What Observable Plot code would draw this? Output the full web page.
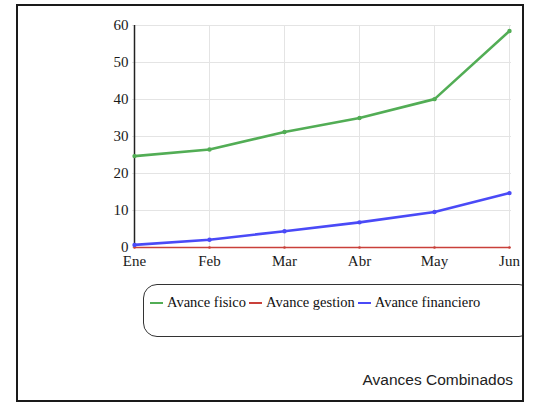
<!DOCTYPE html>
<html>
<head>
<meta charset="utf-8">
<script src="https://cdn.jsdelivr.net/npm/d3@7"></script>
<script src="https://cdn.jsdelivr.net/npm/@observablehq/plot@0.6"></script>
<style>
  html, body { margin: 0; padding: 0; background: #fff; }
  #wrap { position: relative; width: 534px; height: 402px; overflow: hidden; }
  #frame { position: absolute; left: 16px; top: 4px; width: 504px; height: 394px; border: 2px solid #1a1a1a; box-sizing: content-box; pointer-events: none; }
  #legend { position: absolute; left: 143px; top: 284px; width: 390px; height: 53px; border: 1.5px solid #333; border-radius: 14px; box-sizing: border-box; font-family: "Liberation Serif", "Times New Roman", serif; font-size: 14.5px; color: #111; }
  #legend .items { position: absolute; left: 6px; top: 9px; white-space: nowrap; }
  #legend .sw { display: inline-block; width: 13px; height: 2px; vertical-align: middle; margin-right: 4px; position: relative; top: -1px; }
  #legend .it { margin-right: 3px; }
  #title { position: absolute; right: 21px; top: 371px; font-family: "Liberation Sans", Arial, sans-serif; font-size: 15.5px; color: #222; }
  #chart { position: absolute; left: 0; top: 0; }
  #clip { position: absolute; left: 0; top: 0; width: 522px; height: 402px; overflow: hidden; }
</style>
</head>
<body>
<div id="wrap">
  <div id="chart"></div>
  <div id="clip"><div id="legend"><div class="items"></div></div></div>
  <div id="title"></div>
  <div id="frame"></div>
</div>
<script>
const months = ["Ene", "Feb", "Mar", "Abr", "May", "Jun"];
const seriesNames = ["Avance fisico", "Avance gestion", "Avance financiero"];
const seriesColors = ["#52ad55", "#c9403a", "#4a4af7"];
const avanceFisico = [24.7, 26.5, 31.2, 35.0, 40.1, 58.5];
const avanceGestion = [0, 0, 0, 0, 0, 0];
const avanceFinanciero = [0.7, 2.1, 4.4, 6.8, 9.6, 14.7];
const yTicks = [0, 10, 20, 30, 40, 50, 60];
const chartTitle = "Avances Combinados";

const seriesValues = [avanceFisico, avanceGestion, avanceFinanciero];
const data = [];
seriesNames.forEach((name, si) => {
  months.forEach((m, mi) => data.push({ serie: name, mes: m, valor: seriesValues[si][mi] }));
});
const gestion = data.filter(d => d.serie === "Avance gestion");
const others = data.filter(d => d.serie !== "Avance gestion");

const chart = Plot.plot({
  width: 534,
  height: 402,
  marginLeft: 132,
  marginRight: 23,
  marginTop: 25,
  marginBottom: 155,
  style: { fontFamily: "'Liberation Serif', 'Times New Roman', serif", fontSize: "15px", color: "#1a1a1a", background: "transparent" },
  x: { type: "point", domain: months, padding: 0, label: null },
  y: { domain: [0, 60], ticks: yTicks, label: null },
  color: { domain: seriesNames, range: seriesColors },
  marks: [
    Plot.gridX(months, { stroke: "#e4e4e4", strokeOpacity: 1, strokeWidth: 1 }),
    Plot.gridY(yTicks, { stroke: "#e4e4e4", strokeOpacity: 1, strokeWidth: 1 }),
    Plot.axisY(yTicks, { tickSize: 0, tickPadding: 4, fontSize: 15, label: null }),
    Plot.axisX(months, { tickSize: 0, tickPadding: 8, fontSize: 15, label: null }),
    Plot.ruleX([0], { x: () => "Ene", y1: 0, y2: 60, stroke: "#222", strokeWidth: 1.5 }),
    Plot.line(gestion, { x: "mes", y: "valor", stroke: "serie", strokeWidth: 1.6 }),
    Plot.dot(gestion, { x: "mes", y: "valor", fill: "serie", r: 1.3 }),
    Plot.line(others, { x: "mes", y: "valor", z: "serie", stroke: "serie", strokeWidth: 2.6, curve: "linear" }),
    Plot.dot(others, { x: "mes", y: "valor", fill: "serie", r: 2.2 })
  ]
});
document.getElementById("chart").appendChild(chart);

const items = document.querySelector("#legend .items");
seriesNames.forEach((n, i) => {
  const s = document.createElement("span");
  s.className = "it";
  const sw = document.createElement("span");
  sw.className = "sw";
  sw.style.background = seriesColors[i];
  s.appendChild(sw);
  s.appendChild(document.createTextNode(n));
  items.appendChild(s);
});
document.getElementById("title").textContent = chartTitle;
</script>
</body>
</html>
